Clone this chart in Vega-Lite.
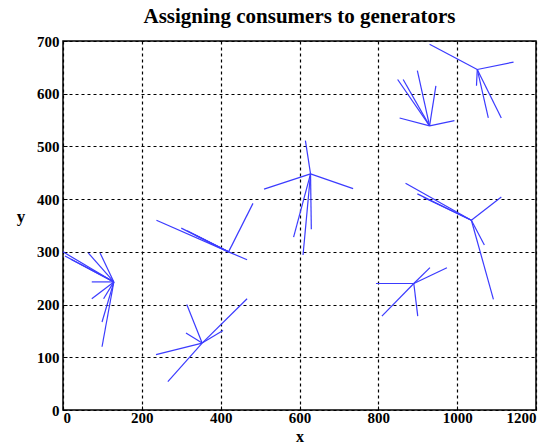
{
  "$schema": "https://vega.github.io/schema/vega-lite/v6.json",
  "width": 473,
  "height": 369,
  "autosize": "none",
  "padding": {"left": 63, "top": 41, "right": 18, "bottom": 38},
  "background": "white",
  "title": {"text": "Assigning consumers to generators", "font": "Liberation Serif", "fontSize": 21, "fontWeight": "bold", "color": "black", "offset": 7},
  "config": {
    "view": {"stroke": "black", "strokeWidth": 1.5},
    "axis": {
      "labelFont": "Liberation Serif", "labelFontWeight": "bold", "labelFontSize": 15, "labelColor": "black",
      "titleFont": "Liberation Serif", "titleFontWeight": "bold", "titleFontSize": 17, "titleColor": "black",
      "gridColor": "black", "gridDash": [3, 3], "gridWidth": 1.2, "gridOpacity": 1,
      "domain": false, "tickColor": "black", "tickSize": -4, "labelPadding": 8, "format": "d"
    }
  },
  "data": {"values": [
    {"gx": 129, "gy": 243, "cx": 0, "cy": 300},
    {"gx": 129, "gy": 243, "cx": 5, "cy": 292},
    {"gx": 129, "gy": 243, "cx": 20, "cy": 286},
    {"gx": 129, "gy": 243, "cx": 64, "cy": 298},
    {"gx": 129, "gy": 243, "cx": 94, "cy": 298},
    {"gx": 129, "gy": 243, "cx": 73, "cy": 243},
    {"gx": 129, "gy": 243, "cx": 73, "cy": 211},
    {"gx": 129, "gy": 243, "cx": 103, "cy": 211},
    {"gx": 129, "gy": 243, "cx": 99, "cy": 167},
    {"gx": 129, "gy": 243, "cx": 99, "cy": 120},
    {"gx": 353, "gy": 127, "cx": 314, "cy": 200},
    {"gx": 353, "gy": 127, "cx": 312, "cy": 146},
    {"gx": 353, "gy": 127, "cx": 236, "cy": 105},
    {"gx": 353, "gy": 127, "cx": 266, "cy": 54},
    {"gx": 353, "gy": 127, "cx": 406, "cy": 151},
    {"gx": 353, "gy": 127, "cx": 467, "cy": 211},
    {"gx": 420, "gy": 300, "cx": 237, "cy": 360},
    {"gx": 420, "gy": 300, "cx": 300, "cy": 345},
    {"gx": 420, "gy": 300, "cx": 315, "cy": 340},
    {"gx": 420, "gy": 300, "cx": 335, "cy": 332},
    {"gx": 420, "gy": 300, "cx": 482, "cy": 392},
    {"gx": 420, "gy": 300, "cx": 467, "cy": 285},
    {"gx": 628, "gy": 448, "cx": 615, "cy": 511},
    {"gx": 628, "gy": 448, "cx": 510, "cy": 419},
    {"gx": 628, "gy": 448, "cx": 736, "cy": 420},
    {"gx": 628, "gy": 448, "cx": 585, "cy": 328},
    {"gx": 628, "gy": 448, "cx": 609, "cy": 294},
    {"gx": 628, "gy": 448, "cx": 630, "cy": 343},
    {"gx": 890, "gy": 240, "cx": 794, "cy": 240},
    {"gx": 890, "gy": 240, "cx": 809, "cy": 178},
    {"gx": 890, "gy": 240, "cx": 900, "cy": 178},
    {"gx": 890, "gy": 240, "cx": 931, "cy": 270},
    {"gx": 890, "gy": 240, "cx": 974, "cy": 270},
    {"gx": 1036, "gy": 360, "cx": 869, "cy": 430},
    {"gx": 1036, "gy": 360, "cx": 899, "cy": 410},
    {"gx": 1036, "gy": 360, "cx": 915, "cy": 403},
    {"gx": 1036, "gy": 360, "cx": 1112, "cy": 404},
    {"gx": 1036, "gy": 360, "cx": 1069, "cy": 313},
    {"gx": 1036, "gy": 360, "cx": 1092, "cy": 210},
    {"gx": 930, "gy": 539, "cx": 849, "cy": 627},
    {"gx": 930, "gy": 539, "cx": 863, "cy": 627},
    {"gx": 930, "gy": 539, "cx": 899, "cy": 644},
    {"gx": 930, "gy": 539, "cx": 946, "cy": 615},
    {"gx": 930, "gy": 539, "cx": 854, "cy": 554},
    {"gx": 930, "gy": 539, "cx": 993, "cy": 549},
    {"gx": 1051, "gy": 646, "cx": 930, "cy": 694},
    {"gx": 1051, "gy": 646, "cx": 1143, "cy": 660},
    {"gx": 1051, "gy": 646, "cx": 1079, "cy": 554},
    {"gx": 1051, "gy": 646, "cx": 1112, "cy": 554},
    {"gx": 1051, "gy": 646, "cx": 1049, "cy": 615}
  ]},
  "mark": {"type": "rule", "color": "#3b3bff", "strokeWidth": 1.2},
  "encoding": {
    "x": {"field": "gx", "type": "quantitative", "title": "x", "scale": {"domain": [0, 1200], "nice": false, "zero": false},
          "axis": {"values": [0, 200, 400, 600, 800, 1000, 1200], "grid": true, "titlePadding": 3, "labelPadding": 4, "titleFontSize": 16, "titleBaseline": "top"}},
    "x2": {"field": "cx"},
    "y": {"field": "gy", "type": "quantitative", "title": "y", "scale": {"domain": [0, 700], "nice": false, "zero": false},
          "axis": {"values": [0, 100, 200, 300, 400, 500, 600, 700], "grid": true, "titleAngle": 0, "titlePadding": 16}},
    "y2": {"field": "cy"}
  }
}
